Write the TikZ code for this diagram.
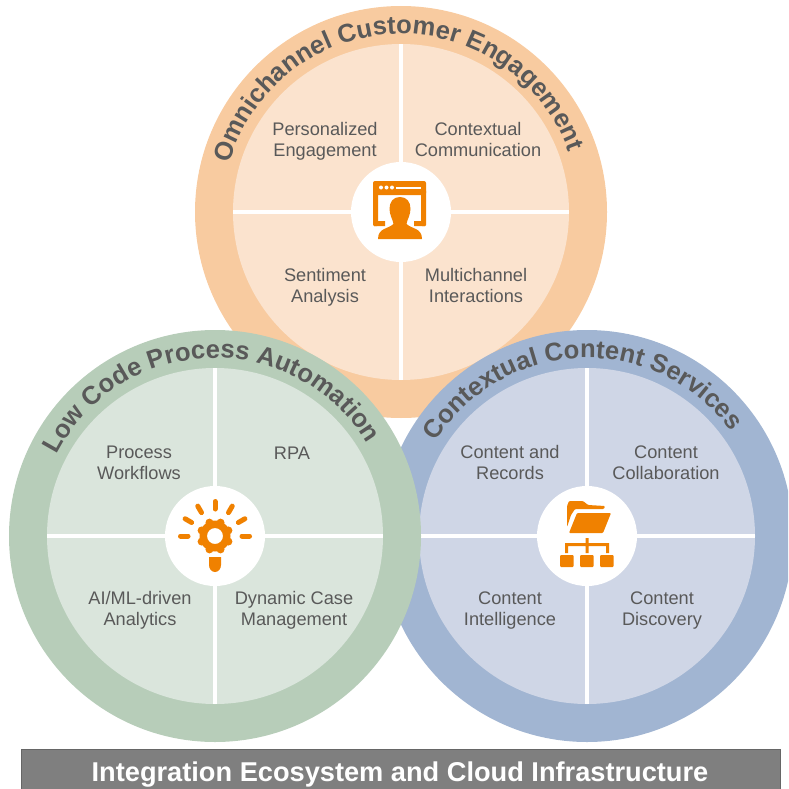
\documentclass[tikz,border=0pt]{standalone}
\usepackage{fontspec}
\setmainfont{Liberation Sans}
\usetikzlibrary{decorations.text}
\definecolor{txtgray}{HTML}{595959}
\definecolor{iconorange}{HTML}{F08100}
\definecolor{ringorange}{HTML}{F8CBA0}
\definecolor{fillorange}{HTML}{FBE3CE}
\definecolor{ringgreen}{HTML}{B7CDB9}
\definecolor{fillgreen}{HTML}{DAE5DC}
\definecolor{ringblue}{HTML}{A1B5D2}
\definecolor{fillblue}{HTML}{CFD6E6}
\definecolor{bargray}{HTML}{7F7F7F}
\tikzset{
  cell/.style={font=\fontsize{18.2}{21}\selectfont,text=txtgray,align=center,
    execute at begin node=\strut,execute at end node=\strut},
  hub/.style={circle,fill=white,minimum size=100pt,inner sep=0pt},
  spoke/.style={white,line width=4pt},
  ringtitle/.style={decorate,decoration={text along path,text align=center,
    text={|\fontsize{25.6}{26}\selectfont\bfseries\color{txtgray}|#1}}}
}
% one ring with its cross and its hub
\newcommand{\petal}[4]{%
  \fill[#2] (#1) circle (206);
  \fill[#3] (#1) circle (168);
  \draw[spoke] ([yshift=-168]#1) -- ([yshift=168]#1);
  \draw[spoke] ([xshift=-168]#1) -- ([xshift=168]#1);
  \node[hub] (#4) at (#1) {};
}
\begin{document}
\begin{tikzpicture}[x=1pt,y=-1pt]
  \useasboundingbox (0,0) rectangle (788,789);
  \begin{scope}
    \clip (0,0) rectangle (788,789);

    %% rings
    \coordinate (top) at (401,212);
    \coordinate (right) at (587,536);
    \coordinate (left) at (215,536);
    \petal{top}{ringorange}{fillorange}{hubtop}
    \petal{right}{ringblue}{fillblue}{hubright}
    \petal{left}{ringgreen}{fillgreen}{hubleft}

    %% titles
    \path[ringtitle={Omnichannel Customer Engagement}]
      (top) ++(-192:178) arc[start angle=-192,end angle=8,radius=178];
    \path[ringtitle={Low Code Process Automation}]
      (left) ++(-192:178) arc[start angle=-192,end angle=8,radius=178];
    \path[ringtitle={Contextual Content Services}]
      (right) ++(-192:178) arc[start angle=-192,end angle=8,radius=178];
  \end{scope}

  %% cells
  \node[cell] (personal) at (325,143) {Personalized\\Engagement};
  \node[cell] (context) at (478,143) {Contextual\\Communication};
  \node[cell] (sentiment) at (325,288.5) {Sentiment\\Analysis};
  \node[cell] (multi) at (476,288.5) {Multichannel\\Interactions};
  \node[cell] (process) at (139,465.7) {Process\\Workflows};
  \node[cell] (rpa) at (292,455) {RPA};
  \node[cell] (aiml) at (140,611.3) {AI/ML-driven\\Analytics};
  \node[cell] (dynamic) at (294,611.3) {Dynamic Case\\Management};
  \node[cell] (records) at (510,465.7) {Content and\\Records};
  \node[cell] (collab) at (666,465.7) {Content\\Collaboration};
  \node[cell] (intel) at (510,611.3) {Content\\Intelligence};
  \node[cell] (discovery) at (662,611.3) {Content\\Discovery};

  %% person icon
  \begin{scope}[shift={(340,150)}]
    \fill[iconorange,rounded corners=2] (33,31) rectangle (86,45);
    \fill[iconorange,rounded corners=1] (33,40) rectangle (38,76) (81,40) rectangle (86,76);
    \fill[iconorange] (34,71) rectangle (45,76) (74,71) rectangle (85,76);
    \fill[white] (41,37.5) circle (2) (46.5,37.5) circle (2) (52,37.5) circle (2);
    \fill[white] (56,36.5) rectangle (81,38.5);
    \fill[iconorange,preaction={draw=white,line width=3pt}] (60,47)
      .. controls (53,47) and (49.5,52) .. (49.5,59)
      .. controls (49.5,65) and (53,70) .. (53.5,74)
      .. controls (48,79) and (38,78) .. (38,89) -- (82,89)
      .. controls (82,78) and (72,79) .. (66.5,74)
      .. controls (67,70) and (70.5,65) .. (70.5,59)
      .. controls (70.5,52) and (67,47) .. (60,47) -- cycle;
  \end{scope}

  %% bulb icon
  \begin{scope}[shift={(155,475)}]
    \foreach \a in {0,30,60,90,120,150,180} {
      \draw[iconorange,line width=5pt,line cap=round] (60,61) ++(-\a:27) -- ++(-\a:7.5);
    }
    \foreach \a in {0,45,...,315} {
      \fill[iconorange] (60,61) ++(\a+22.5:14.5) circle (4);
    }
    \fill[iconorange,even odd rule] (60,61) circle (15.5) (60,61) circle (8);
    \fill[iconorange] (54,82) -- (66,82) -- (66,90) arc[start angle=0,end angle=180,x radius=6,y radius=7] -- cycle;
  \end{scope}

  %% folder icon
  \begin{scope}[shift={(528,475)}]
    \fill[iconorange,rounded corners=1] (39,52) -- (39,31) -- (41,26) -- (55,26) -- (60,30) -- (77,31) -- (76,34) -- (47,34) -- (43,40) -- cycle;
    \fill[iconorange,rounded corners=1] (49,38) -- (83,38) -- (75,58) -- (41,58) -- cycle;
    \fill[iconorange] (37,68) rectangle (81,71) (57.5,63) rectangle (60.5,78) (37,68) rectangle (40,78) (78,68) rectangle (81,78);
    \foreach \x in {32,52,72} {
      \fill[iconorange,rounded corners=1] (\x,80) rectangle ++(13.5,12);
    }
  \end{scope}

  %% bar
  \fill[bargray,draw=black!60,line width=0.6pt] (21,749) rectangle (780,790);
  \node[font=\fontsize{27.2}{28}\selectfont\bfseries,text=white] (infra) at (400,775) {Integration Ecosystem and Cloud Infrastructure};
\end{tikzpicture}
\end{document}
